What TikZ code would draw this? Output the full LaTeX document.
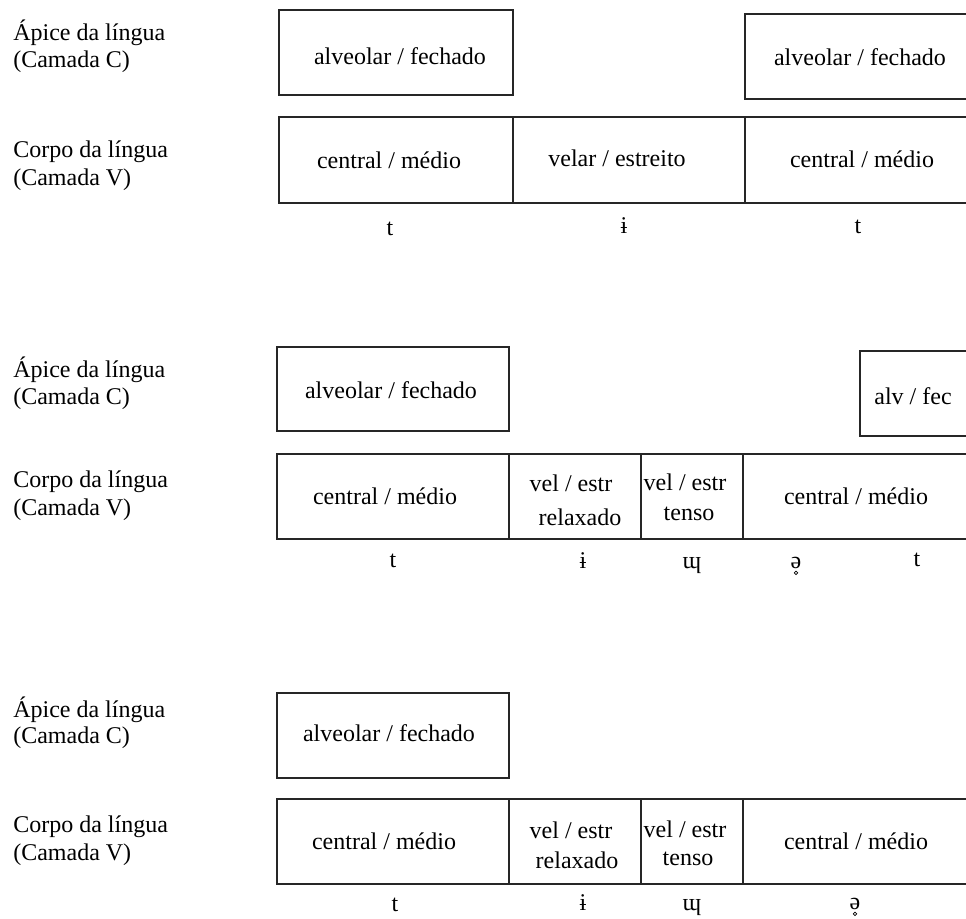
\documentclass[tikz,border=0pt]{standalone}
\usepackage{fontspec}
\setmainfont{Liberation Serif}
\begin{document}
\begin{tikzpicture}[x=0.75pt,y=-0.75pt,
  frame/.style={draw=black!85,line width=1.3pt},
  cellbox/.style 2 args={frame,minimum width=#1*0.75pt,minimum height=#2*0.75pt,inner sep=0pt,anchor=north west},
  txt/.style={font=\fontsize{18}{20}\selectfont,inner sep=0pt},
  lbl/.style={txt,anchor=base west},
  seg/.style={txt,anchor=base},
  ring/.style={line width=0.55pt}]
\useasboundingbox (0,0) rectangle (966,918);
\clip (0,0) rectangle (966,918);

% ---------- first analysis: t ɨ t ----------
\node[lbl] (aL1) at (13,40) {Ápice da língua};
\node[lbl] (aL2) at (13,67) {(Camada C)};
\node[lbl] (aL3) at (13,157) {Corpo da língua};
\node[lbl] (aL4) at (13,185) {(Camada V)};

\node[cellbox={234}{85}] (aC1) at (278,9) {};
\node[cellbox={240}{85}] (aC2) at (744,13) {};
\node[txt] (aC1t) at (400,56) {alveolar / fechado};
\node[txt] (aC2t) at (860,57) {alveolar / fechado};

\node[cellbox={234}{86}] (aV1) at (278,116) {};
\node[cellbox={232}{86}] (aV2) at (512,116) {};
\node[cellbox={240}{86}] (aV3) at (744,116) {};
\node[txt] (aV1t) at (389,160) {central / médio};
\node[txt] (aV2t) at (617,158) {velar / estreito};
\node[txt] (aV3t) at (862,159) {central / médio};

\node[seg] (aS1) at (390,235) {t};
\node[seg] (aS2) at (624,233) {ɨ};
\node[seg] (aS3) at (858,233) {t};

% ---------- second analysis: t ɨ ɰ ə t ----------
\node[lbl] (bL1) at (13,377) {Ápice da língua};
\node[lbl] (bL2) at (13,404) {(Camada C)};
\node[lbl] (bL3) at (13,487) {Corpo da língua};
\node[lbl] (bL4) at (13,515) {(Camada V)};

\node[cellbox={232}{84}] (bC1) at (276,346) {};
\node[cellbox={120}{85}] (bC2) at (859,350) {};
\node[txt] (bC1t) at (391,390) {alveolar / fechado};
\node[txt] (bC2t) at (913,396) {alv / fec};

\node[cellbox={232}{85}] (bV1) at (276,453) {};
\node[cellbox={132}{85}] (bV2) at (508,453) {};
\node[cellbox={102}{85}] (bV3) at (640,453) {};
\node[cellbox={240}{85}] (bV4) at (742,453) {};
\node[txt] (bV1t) at (385,496) {central / médio};
\node[txt] (bV2a) at (571,483) {vel / estr};
\node[txt] (bV2b) at (580,517) {relaxado};
\node[txt] (bV3a) at (685,482) {vel / estr};
\node[txt] (bV3b) at (689,514) {tenso};
\node[txt] (bV4t) at (856,496) {central / médio};

\node[seg] (bS1) at (393,567) {t};
\node[seg] (bS2) at (583,568) {ɨ};
\node[seg] (bS3) at (692,568) {ɰ};
\node[seg] (bS4) at (796,568) {ə};
\draw[ring] ([yshift=-3.6pt]bS4.base) circle[radius=1.3pt];
\node[seg] (bS5) at (917,566) {t};

% ---------- third analysis: t ɨ ɰ ə ----------
\node[lbl] (cL1) at (13,717) {Ápice da língua};
\node[lbl] (cL2) at (13,743) {(Camada C)};
\node[lbl] (cL3) at (13,832) {Corpo da língua};
\node[lbl] (cL4) at (13,860) {(Camada V)};

\node[cellbox={232}{85}] (cC1) at (276,692) {};
\node[txt] (cC1t) at (389,733) {alveolar / fechado};

\node[cellbox={232}{85}] (cV1) at (276,798) {};
\node[cellbox={132}{85}] (cV2) at (508,798) {};
\node[cellbox={102}{85}] (cV3) at (640,798) {};
\node[cellbox={240}{85}] (cV4) at (742,798) {};
\node[txt] (cV1t) at (384,841) {central / médio};
\node[txt] (cV2a) at (571,830) {vel / estr};
\node[txt] (cV2b) at (577,860) {relaxado};
\node[txt] (cV3a) at (685,829) {vel / estr};
\node[txt] (cV3b) at (688,859) {tenso};
\node[txt] (cV4t) at (856,841) {central / médio};

\node[seg] (cS1) at (395,911) {t};
\node[seg] (cS2) at (583,910) {ɨ};
\node[seg] (cS3) at (692,910) {ɰ};
\node[seg] (cS4) at (855,909) {ə};
\draw[ring] ([yshift=-3.6pt]cS4.base) circle[radius=1.3pt];
\end{tikzpicture}
\end{document}
